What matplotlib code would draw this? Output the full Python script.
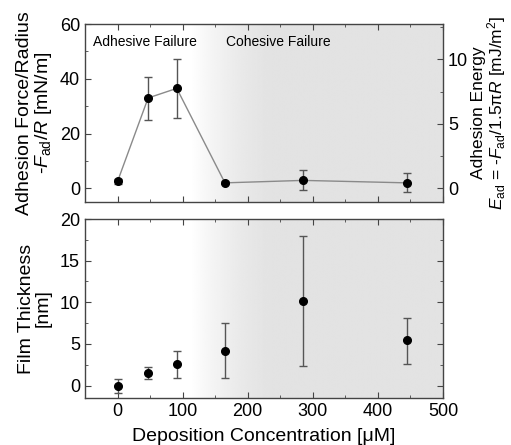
import numpy as np
import matplotlib
matplotlib.use("Agg")
import matplotlib.pyplot as plt
from matplotlib.ticker import MultipleLocator

plt.rcParams['font.family'] = ['Liberation Sans', 'DejaVu Sans']
plt.rcParams['mathtext.fontset'] = 'custom'
plt.rcParams['mathtext.rm'] = 'Liberation Sans'
plt.rcParams['mathtext.it'] = 'Liberation Sans:italic'

# deposition concentration [uM]
conc = [0, 47, 91, 165, 285, 445]

# adhesion force / radius [mN/m] with lower / upper error
force = [2.5, 33.0, 36.5, 2.0, 2.9, 2.0]
force_lo = [1.0, 8.0, 10.8, 0.5, 3.6, 3.3]
force_hi = [1.0, 7.8, 10.7, 0.5, 3.7, 3.7]

# film thickness [nm] with lower / upper error
thick = [-0.1, 1.5, 2.55, 4.2, 10.2, 5.45]
thick_lo = [0.8, 0.75, 1.65, 3.3, 7.85, 2.85]
thick_hi = [0.85, 0.7, 1.65, 3.35, 7.8, 2.7]

shade_start, shade_end = 112, 240
xlim = (-50, 500)

fig = plt.figure(figsize=(5.11, 4.45), dpi=100)
ax1 = fig.add_axes([0.1663, 0.546, 0.7006, 0.4])
ax2 = fig.add_axes([0.1663, 0.1056, 0.7006, 0.4022])


def shade(ax, ylim):
    # white -> light gray gradient, then flat gray up to the right edge
    xs = np.linspace(xlim[0], xlim[1], 600)
    t = np.clip((xs - shade_start) / (shade_end - shade_start), 0, 1)
    t = 1 - (1 - t) ** 1.6
    grey = 1.0 - t * (1.0 - 0.89)
    img = np.tile(grey, (2, 1))
    ax.imshow(img, extent=[xlim[0], xlim[1], ylim[0], ylim[1]], aspect='auto',
              cmap='gray', vmin=0, vmax=1, zorder=0, interpolation='bilinear')
    ax.set_xlim(xlim)
    ax.set_ylim(ylim)


def style(ax):
    ax.tick_params(which='both', direction='in', top=True, right=True,
                   labelsize=13, color='#444444')
    ax.tick_params(which='major', length=4)
    ax.tick_params(which='minor', length=2)
    ax.xaxis.set_major_locator(MultipleLocator(100))
    ax.xaxis.set_minor_locator(MultipleLocator(50))
    for s in ax.spines.values():
        s.set_color('#444444')
        s.set_linewidth(1.0)


# top panel
ylim1 = (-5, 60)
shade(ax1, ylim1)
ax1.plot(conc, force, color='#8a8a8a', lw=1.0, zorder=2)
ax1.errorbar(conc, force, yerr=[force_lo, force_hi], fmt='o', color='black',
             ms=5.5, ecolor='#555555', elinewidth=1.0, capsize=3, capthick=1.0, zorder=3)
style(ax1)
ax1.tick_params(labelbottom=False, right=False)
ax1.yaxis.set_major_locator(MultipleLocator(20))
ax1.yaxis.set_minor_locator(MultipleLocator(10))
ax1.set_ylabel('Adhesion Force/Radius\n-$F_{\\mathrm{ad}}$/$R$ [mN/m]', fontsize=14,
               linespacing=1.0, labelpad=4)
ax1.text(-38, 56, 'Adhesive Failure', fontsize=10, va='top', zorder=4)
ax1.text(166, 56, 'Cohesive Failure', fontsize=10, va='top', zorder=4)

# right axis: adhesion energy = F/R / (1.5 pi)
ax1r = ax1.twinx()
ax1r.set_ylim(ylim1[0] / (1.5 * np.pi), ylim1[1] / (1.5 * np.pi))
ax1r.yaxis.set_major_locator(MultipleLocator(5))
ax1r.yaxis.set_minor_locator(MultipleLocator(2.5))
ax1r.tick_params(which='both', direction='in', labelsize=13, color='#444444')
ax1r.tick_params(which='major', length=4)
ax1r.tick_params(which='minor', length=2)
for s in ax1r.spines.values():
    s.set_visible(False)
ax1r.set_ylabel('Adhesion Energy\n$E_{\\mathrm{ad}}$ = -$F_{\\mathrm{ad}}$/1.5\u03c0$R$ [mJ/m$^2$]',
                fontsize=12.5, linespacing=0.95, labelpad=2)

# bottom panel
ylim2 = (-1.5, 20)
shade(ax2, ylim2)
ax2.errorbar(conc, thick, yerr=[thick_lo, thick_hi], fmt='o', color='black',
             ms=5.5, ecolor='#555555', elinewidth=1.0, capsize=3, capthick=1.0, zorder=3)
style(ax2)
ax2.yaxis.set_major_locator(MultipleLocator(5))
ax2.yaxis.set_minor_locator(MultipleLocator(2.5))
ax2.set_ylabel('Film Thickness\n[nm]', fontsize=14, linespacing=1.0, labelpad=6)
ax2.set_xlabel('Deposition Concentration [\u03bcM]', fontsize=14, labelpad=6)

fig.savefig('out.png', dpi=100)
